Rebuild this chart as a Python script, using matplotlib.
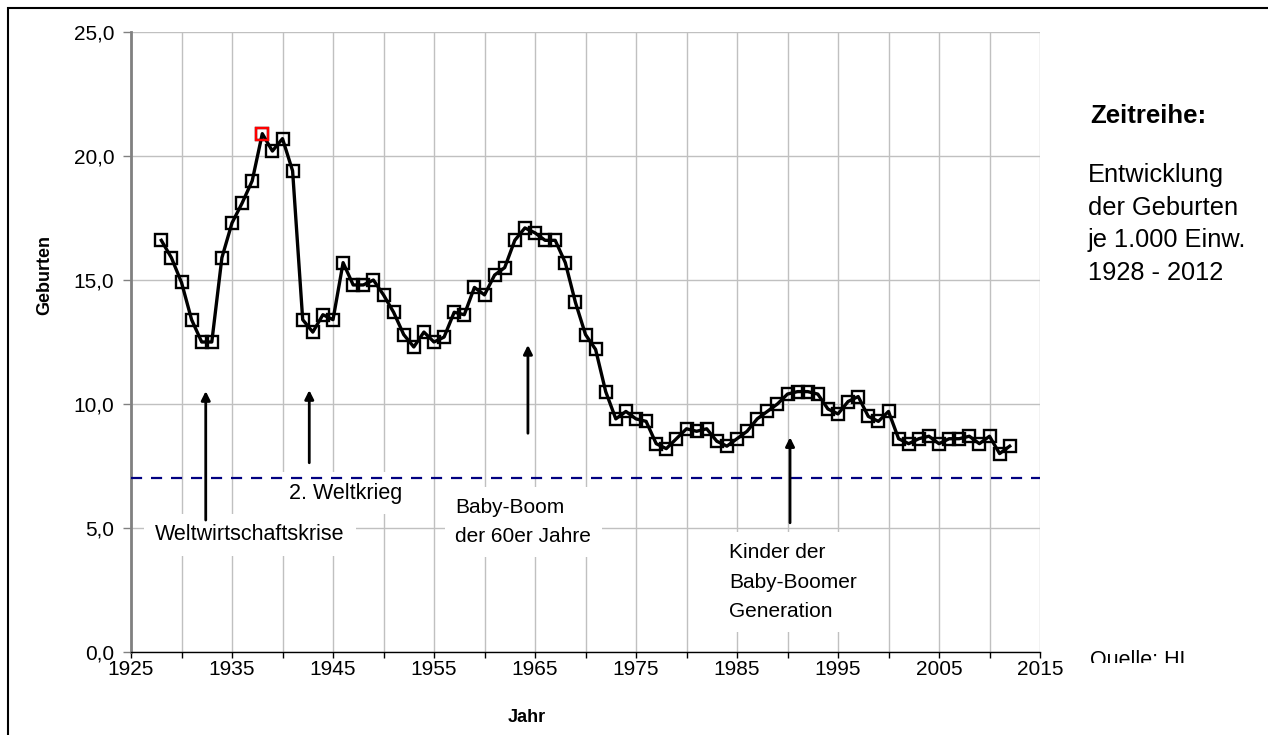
import matplotlib
matplotlib.use("Agg")
import matplotlib.pyplot as plt
from matplotlib.ticker import MultipleLocator, FuncFormatter
from matplotlib.patches import Rectangle
from matplotlib.transforms import Bbox, TransformedBbox

plt.rcParams['font.family'] = ['Liberation Sans', 'DejaVu Sans']

# Geburten je 1.000 Einwohner, 1928 - 2012
years = list(range(1928, 2013))
births = [16.6, 15.9, 14.9, 13.4, 12.5, 12.5, 15.9, 17.3, 18.1, 19.0,
          20.9, 20.2, 20.7, 19.4, 13.4, 12.9, 13.6, 13.4, 15.7, 14.8,
          14.8, 15.0, 14.4, 13.7, 12.8, 12.3, 12.9, 12.5, 12.7, 13.7,
          13.6, 14.7, 14.4, 15.2, 15.5, 16.6, 17.1, 16.9, 16.6, 16.6,
          15.7, 14.1, 12.8, 12.2, 10.5, 9.4, 9.7, 9.4, 9.3, 8.4,
          8.2, 8.6, 9.0, 8.9, 9.0, 8.5, 8.3, 8.6, 8.9, 9.4,
          9.7, 10.0, 10.4, 10.5, 10.5, 10.4, 9.8, 9.6, 10.1, 10.3,
          9.5, 9.3, 9.7, 8.6, 8.4, 8.6, 8.7, 8.4, 8.6, 8.6,
          8.7, 8.4, 8.7, 8.0, 8.3]
peak_year = 1938
reference_level = 7.0

W, H = 1268, 735
fig = plt.figure(figsize=(W / 100, H / 100), dpi=100)
ax = fig.add_axes([131 / W, 83 / H, 909 / W, 620 / H])

# Rahmen
fig.add_artist(Rectangle((8 / W, -0.05), 1.1, 1.05 - 8 / H,
                         transform=fig.transFigure, fill=False,
                         ec='black', lw=1.5, clip_on=False))

ax.set_xlim(1925, 2015)
ax.set_ylim(0, 25)
ax.xaxis.set_major_locator(MultipleLocator(10, offset=5))
ax.xaxis.set_minor_locator(MultipleLocator(5))
ax.yaxis.set_major_locator(MultipleLocator(5))
ax.yaxis.set_major_formatter(FuncFormatter(lambda v, p: f"{v:.1f}".replace('.', ',')))
ax.grid(True, which='both', color='#c0c0c0', lw=1)
ax.set_axisbelow(True)

for s in ['top', 'right']:
    ax.spines[s].set_visible(False)
ax.spines['left'].set_color('#808080')
ax.spines['left'].set_linewidth(2)
ax.spines['bottom'].set_color('black')
ax.spines['bottom'].set_linewidth(1)
ax.tick_params(axis='y', length=6, width=1, color='#808080', pad=6, labelsize=15)
ax.tick_params(axis='x', which='both', length=4, width=1, color='black', pad=2, labelsize=15)

ax.axhline(reference_level, color='#000080', lw=1.6, ls=(0, (5, 4)), zorder=4)

ax.plot(years, births, color='black', lw=2.4, marker='s', ms=8,
        mfc='none', mec='black', mew=1.7, zorder=6)
pi = years.index(peak_year)
ax.plot([years[pi]], [births[pi]], ls='none', marker='s', ms=8,
        mfc='none', mec='red', mew=1.7, zorder=7)

# Achsentitel (nicht mittig, wie im Original)
fig.text(527 / W, 1 - 718 / H, "Jahr", fontsize=13, fontweight='bold', ha='center', va='center')
fig.text(45 / W, 1 - 275 / H, "Geburten", fontsize=13, fontweight='bold', rotation=90,
         ha='center', va='center')

box = dict(facecolor='white', edgecolor='none', boxstyle='square,pad=0.5')
ax.text(1927.4, 4.72, "Weltwirtschaftskrise", fontsize=15.5, va='center', bbox=box, zorder=3)
ax.text(1940.6, 6.41, "2. Weltkrieg", fontsize=15.5, va='center', bbox=box, zorder=3)
ax.text(1957.1, 5.24, "Baby-Boom\nder 60er Jahre", fontsize=15, va='center',
        linespacing=1.72, bbox=box, zorder=3)
ax.text(1984.2, 2.82, "Kinder der\nBaby-Boomer\nGeneration", fontsize=15, va='center',
        linespacing=1.72, bbox=box, zorder=3)

arrows = [(1932.4, 5.32, 10.52), (1942.65, 7.63, 10.56),
          (1964.3, 8.82, 12.38), (1990.25, 5.21, 8.66)]
for x, y0, y1 in arrows:
    ax.annotate("", xy=(x, y1), xytext=(x, y0),
                arrowprops=dict(arrowstyle='-|>', color='black', lw=2,
                                mutation_scale=13, shrinkA=0, shrinkB=0),
                zorder=5)

fig.text(1090 / W, 1 - 116 / H, "Zeitreihe:", fontsize=18.5, fontweight='bold', va='center')
fig.text(1088 / W, 1 - 224 / H, "Entwicklung\nder Geburten\nje 1.000 Einw.\n1928 - 2012",
         fontsize=18.3, va='center', linespacing=1.45)

q = fig.text(1090 / W, 1 - 650 / H, "Quelle: HL", fontsize=15.5, va='top')
q.set_clip_box(TransformedBbox(Bbox([[1080 / W, 1 - 663 / H], [1195 / W, 1 - 630 / H]]),
                               fig.transFigure))
q.set_clip_on(True)

fig.savefig("out.png", dpi=100)
